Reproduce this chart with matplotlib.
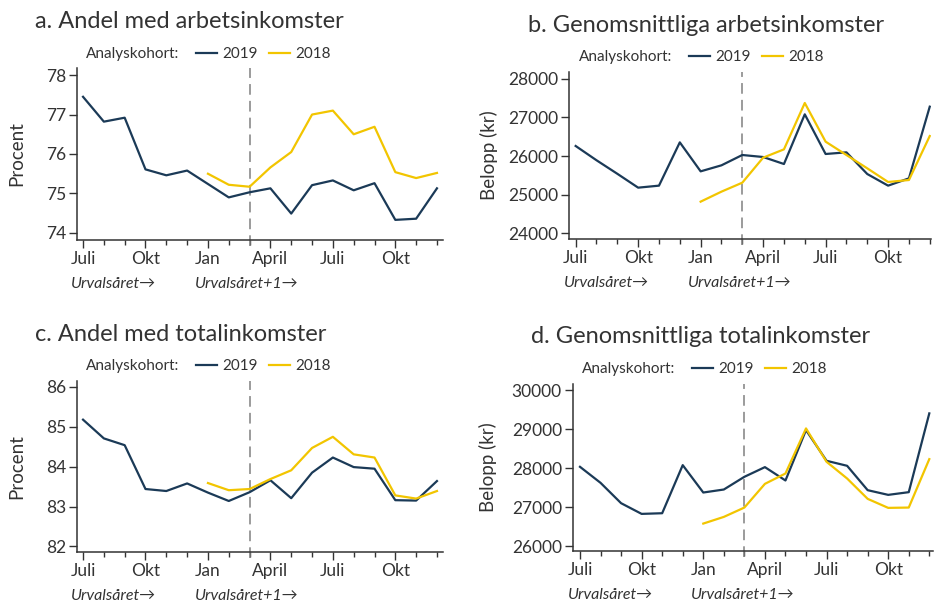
import matplotlib
matplotlib.use("Agg")
import matplotlib.pyplot as plt
from matplotlib.lines import Line2D

plt.rcParams['font.family'] = ['Lato', 'DejaVu Sans']
plt.rcParams['text.color'] = '#333333'

# === DATA ===
months = list(range(18))  # Juli (urvalsåret) .. Dec (urvalsåret+1)
tick_pos = [0, 3, 6, 9, 12, 15]
tick_labels = ['Juli', 'Okt', 'Jan', 'April', 'Juli', 'Okt']
months_2018 = list(range(6, 18))

andel_arb_2019 = [77.45, 76.82, 76.92, 75.61, 75.46, 75.58, 75.24, 74.90, 75.03,
                  75.13, 74.49, 75.21, 75.33, 75.08, 75.26, 74.33, 74.36, 75.13]
andel_arb_2018 = [75.50, 75.22, 75.17, 75.66, 76.05, 77.00, 77.10, 76.50, 76.69,
                  75.54, 75.39, 75.52]

snitt_arb_2019 = [26259, 25890, 25540, 25181, 25233, 26353, 25603, 25759, 26026,
                  25974, 25793, 27078, 26052, 26095, 25534, 25233, 25422, 27276]
snitt_arb_2018 = [24819, 25078, 25310, 25957, 26172, 27371, 26371, 26026, 25681,
                  25328, 25379, 26517]

andel_tot_2019 = [85.18, 84.71, 84.54, 83.44, 83.39, 83.58, 83.35, 83.14, 83.36,
                  83.66, 83.21, 83.85, 84.23, 83.99, 83.95, 83.16, 83.15, 83.64]
andel_tot_2018 = [83.59, 83.41, 83.44, 83.69, 83.91, 84.47, 84.75, 84.31, 84.23,
                  83.28, 83.20, 83.39]

snitt_tot_2019 = [28034, 27624, 27103, 26829, 26846, 28077, 27376, 27453, 27778,
                  28026, 27684, 28974, 28188, 28060, 27436, 27316, 27385, 29402]
snitt_tot_2018 = [26581, 26752, 26991, 27598, 27863, 29017, 28162, 27735, 27214,
                  26983, 26991, 28231]

NAVY = '#1b3a57'
YELLOW = '#f2c500'
GREY = '#333333'

W, H = 934, 602
fig = plt.figure(figsize=(W / 100, H / 100), dpi=100)


def px_axes(left, right, top, bottom):
    return fig.add_axes([left / W, 1 - bottom / H, (right - left) / W, (bottom - top) / H])


def panel(box, title, title_xy, legend_xy, ylabel, ylabel_x, y19, y18, yticks, ylim, xlim):
    ax = px_axes(*box)
    ax.plot(months, y19, color=NAVY, lw=1.6, zorder=3)
    ax.plot(months_2018, y18, color=YELLOW, lw=1.6, zorder=3)
    ax.axvline(8, color='#808080', lw=1.1, ls=(0, (7, 4)), ymin=-0.035, clip_on=False, zorder=2)

    ax.set_xlim(*xlim)
    ax.set_ylim(*ylim)
    ax.set_xticks(tick_pos)
    ax.set_xticklabels(tick_labels, fontsize=12.5)
    ax.set_xticks(months, minor=True)
    ax.set_yticks(yticks)
    ax.set_yticklabels([str(v) for v in yticks], fontsize=12.5)
    ax.tick_params(axis='both', which='major', length=6, width=1, color=GREY,
                   labelcolor=GREY, pad=2)
    ax.tick_params(axis='x', which='minor', length=3.5, width=1, color=GREY)
    for s in ['top', 'right']:
        ax.spines[s].set_visible(False)
    for s in ['left', 'bottom']:
        ax.spines[s].set_color(GREY)
        ax.spines[s].set_linewidth(1.1)

    ax.set_ylabel(ylabel, fontsize=13.5, color=GREY)
    ax.yaxis.set_label_coords(ylabel_x, 0.5)

    # Urvalsår-markeringar under axeln
    for xx, txt in [(-0.58, 'Urvalsåret→'), (5.38, 'Urvalsåret+1→')]:
        ax.annotate(txt, xy=(xx, 0), xycoords=('data', 'axes fraction'),
                    xytext=(0, -44), textcoords='offset pixels',
                    ha='left', va='center', fontsize=11.5, style='italic', color=GREY)

    tx, ty = title_xy
    fig.text(tx / W, 1 - ty / H, title, fontsize=17, color=GREY, va='baseline')

    lx, ly = legend_xy
    fig.text(lx / W, 1 - ly / H, 'Analyskohort:', fontsize=11, color=GREY, va='baseline')
    for (h0, h1, t0, lab, col) in [(110, 131, 136, '2019', NAVY), (183, 204, 209, '2018', YELLOW)]:
        fig.add_artist(Line2D([(lx + h0) / W, (lx + h1) / W], [1 - (ly - 5) / H] * 2,
                              color=col, lw=1.6, transform=fig.transFigure))
        fig.text((lx + t0) / W, 1 - ly / H, lab, fontsize=11, color=GREY, va='baseline')
    return ax


panel((77, 443, 68, 240), 'a. Andel med arbetsinkomster', (35, 28), (86, 58),
      'Procent', -0.142, andel_arb_2019, andel_arb_2018,
      [74, 75, 76, 77, 78], (73.82, 78.18), (-0.29, 17.29))
panel((569, 931, 72, 239), 'b. Genomsnittliga arbetsinkomster', (528, 32), (579, 61),
      'Belopp (kr)', -0.196, snitt_arb_2019, snitt_arb_2018,
      [24000, 25000, 26000, 27000, 28000], (23853, 28173), (-0.32, 17.06))
panel((77, 443, 381, 552), 'c. Andel med totalinkomster', (35, 341), (86, 370),
      'Procent', -0.142, andel_tot_2019, andel_tot_2018,
      [82, 83, 84, 85, 86], (81.86, 86.15), (-0.29, 17.29))
panel((573, 933, 384, 551), 'd. Genomsnittliga totalinkomster', (531, 343), (582, 373),
      'Belopp (kr)', -0.212, snitt_tot_2019, snitt_tot_2018,
      [26000, 27000, 28000, 29000, 30000], (25879, 30154), (-0.34, 17.18))

fig.savefig('out.png', dpi=100)
